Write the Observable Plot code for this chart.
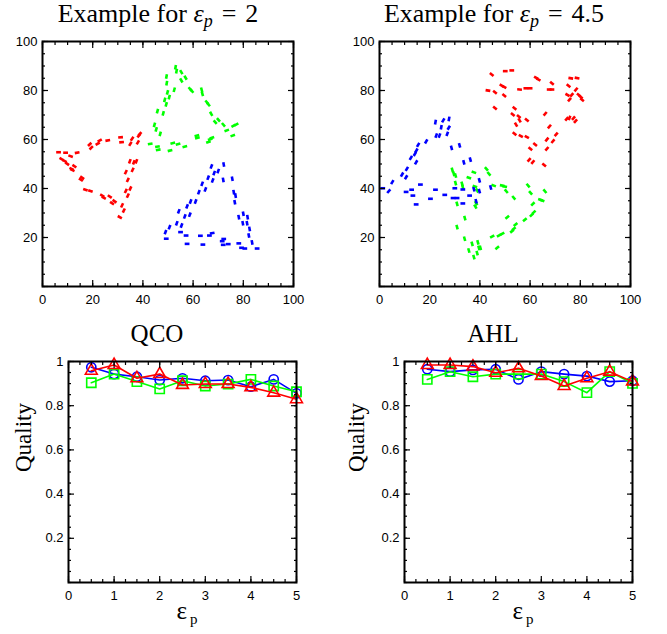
<!DOCTYPE html>
<html><head><meta charset="utf-8">
<script src="https://cdn.jsdelivr.net/npm/d3@7"></script>
<script src="https://cdn.jsdelivr.net/npm/@observablehq/plot@0.6"></script>
<style>
body{margin:0;background:#fff;}
#root{position:relative;width:667px;height:634px;overflow:hidden;}
.panel{position:absolute;}
.title{position:absolute;font-family:"Liberation Serif","Times New Roman",serif;white-space:nowrap;transform:translateX(-50%);line-height:1;color:#000;}
.title i{font-style:italic;}
.sub{font-size:18px;position:relative;top:5px;font-style:italic;}
.eq{margin:0 9px;}
.xlab{position:absolute;font-family:"Liberation Serif",serif;font-size:25px;line-height:1;transform:translateX(-50%);white-space:nowrap;}
.xlab span{font-size:15px;position:relative;top:5px;margin-left:3px;}
</style></head><body><div id="root"></div><script>
// ---------- top panels: dashes [x, y, orientation in degrees clockwise from up] ----------
const ex2Red = [[6.4,54.8,90],[9.2,54.6,90],[13.8,54.6,80],[11.2,53.2,110],[7.6,52.0,120],[8.8,51.2,120],[9.8,50.1,125],[12.7,49.1,125],[11.6,48.0,115],[11.9,47.5,115],[15.8,44.4,125],[15.3,43.6,125],[17.1,39.5,110],[19.1,39.0,110],[23.8,37.1,120],[24.4,36.2,120],[26.8,36.7,125],[27.7,34.0,125],[28.7,34.8,125],[30.8,28.3,120],[32.4,31.0,25],[31.7,33.1,25],[34.0,37.1,25],[33.2,39.0,25],[35.0,40.0,25],[34.0,43.5,25],[33.2,46.7,25],[35.9,47.6,25],[34.8,51.1,20],[36.4,50.7,20],[37.4,51.1,20],[35.0,58.2,30],[35.7,60.3,35],[38.0,58.8,30],[38.4,61.6,40],[38.8,62.3,40],[31.1,60.9,85],[31.5,58.9,85],[26.0,59.6,80],[22.8,59.6,60],[22.0,58.3,60],[18.8,58.0,45],[19.4,56.6,45]];
const ex2Green = [[53.0,89.5,10],[53.4,87.9,10],[55.3,87.5,150],[57.0,85.2,150],[55.3,84.1,150],[49.4,85.7,10],[49.5,83.0,10],[52.5,80.3,15],[49.8,79.2,15],[50.5,77.3,15],[48.7,76.2,15],[49.3,74.3,15],[45.8,71.6,15],[48.1,70.7,15],[44.6,66.0,15],[45.3,64.1,15],[46.9,62.3,15],[42.9,58.2,80],[45.8,57.1,80],[46.1,55.8,80],[51.9,58.5,75],[50.8,55.5,75],[54.0,58.1,75],[56.7,57.1,75],[61.5,61.6,75],[61.7,60.7,75],[66.8,60.1,70],[67.5,60.7,70],[66.1,59.0,70],[73.4,63.7,70],[75.8,61.6,70],[76.1,65.6,60],[77.2,66.1,60],[72.1,66.0,140],[70.1,68.0,140],[68.8,67.1,140],[67.2,70.5,150],[66.1,74.3,140],[65.5,75.2,140],[63.7,78.6,165],[63.4,80.3,165],[58.8,80.6,140],[59.5,79.8,140]];
const ex2Blue = [[72.2,49.8,170],[67.3,49.0,20],[70.0,47.1,20],[68.4,46.3,20],[66.0,44.4,20],[67.8,43.3,20],[72.0,43.5,170],[75.6,44.0,170],[63.6,41.9,20],[64.9,39.6,20],[62.3,38.5,20],[76.2,38.5,170],[76.9,37.1,170],[76.6,34.4,170],[59.0,34.7,20],[61.0,34.7,20],[57.6,32.7,20],[54.3,30.7,20],[56.7,28.6,20],[58.7,29.3,20],[53.5,25.8,20],[55.4,24.9,20],[50.6,24.2,20],[49.0,22.2,20],[49.3,19.5,90],[55.0,22.2,90],[57.2,20.8,90],[57.6,17.4,90],[62.9,20.7,90],[63.9,17.1,90],[66.5,20.8,90],[67.6,21.8,80],[72.2,19.4,90],[71.6,18.5,90],[72.0,17.0,90],[74.0,17.3,90],[78.2,17.6,90],[79.3,15.8,90],[80.6,15.5,90],[85.5,15.5,90],[83.5,18.0,170],[82.2,20.8,170],[81.5,25.8,170],[82.5,23.5,170],[79.8,25.8,170],[78.2,28.3,170],[80.0,29.7,170],[81.7,28.3,170]];
const ex45Red = [[44.7,86.5,130],[50.1,87.9,90],[52.7,88.2,90],[43.2,80.0,100],[46.0,79.3,130],[48.7,82.0,120],[49.7,81.4,120],[49.7,78.0,130],[55.8,80.4,95],[58.3,80.9,90],[60.0,80.9,90],[62.4,85.2,120],[63.3,84.5,120],[68.7,83.0,130],[67.6,80.4,90],[68.7,80.4,90],[76.2,85.0,100],[78.7,85.1,100],[75.3,81.9,130],[78.3,80.4,40],[76.6,78.2,40],[74.9,78.2,120],[75.7,76.3,40],[79.4,78.2,130],[80.2,77.3,130],[80.7,76.2,130],[46.0,72.9,130],[53.8,72.8,130],[53.1,70.2,130],[55.5,69.4,130],[55.8,67.8,150],[54.4,66.1,150],[58.7,68.0,130],[66.0,70.5,40],[74.6,68.4,40],[75.7,68.8,20],[77.3,68.7,40],[78.1,67.5,40],[53.8,62.3,130],[56.3,61.4,120],[58.7,61.0,120],[67.7,65.3,40],[70.4,62.1,40],[66.7,60.0,40],[69.1,59.3,40],[62.0,58.0,130],[60.1,56.2,130],[66.7,56.2,40],[59.6,51.7,40],[61.1,50.8,40],[65.6,49.6,130]];
const ex45Blue = [[22.3,67.1,10],[25.4,67.8,30],[27.7,68.4,10],[24.6,65.0,10],[27.6,64.8,30],[22.6,61.6,20],[23.9,61.6,20],[27.0,62.3,20],[18.6,59.2,30],[15.4,57.8,30],[14.7,55.5,30],[14.1,54.1,30],[12.5,52.5,30],[14.6,50.7,30],[28.7,56.6,165],[31.9,57.6,165],[33.6,50.7,165],[36.2,51.8,165],[10.9,48.0,30],[10.6,44.6,30],[9.0,45.7,30],[5.1,42.6,30],[3.7,38.9,40],[1.3,40.1,90],[16.3,41.6,90],[10.6,38.6,90],[12.8,39.5,90],[13.3,37.1,90],[14.6,33.5,90],[20.3,35.8,90],[22.3,39.5,90],[26.0,37.4,90],[30.0,40.1,90],[33.2,39.6,90],[30.9,36.1,90],[33.2,33.9,90],[35.9,37.1,90],[37.6,39.7,165],[39.8,43.3,165],[39.8,38.9,165],[38.5,34.8,165],[44.3,40.4,165],[29.3,36.1,90]];
const ex45Green = [[29.0,47.6,165],[29.6,46.0,165],[30.3,45.3,165],[35.6,44.4,110],[37.6,46.6,110],[42.6,48.0,140],[43.6,46.0,140],[32.9,41.9,165],[33.2,40.5,165],[30.3,42.2,165],[38.0,40.8,110],[45.5,41.2,110],[48.9,41.2,100],[49.9,40.8,100],[50.5,38.9,140],[59.2,41.2,140],[60.2,38.2,140],[65.9,38.9,140],[53.5,36.2,140],[64.1,35.4,110],[64.8,35.1,110],[61.1,33.7,45],[61.5,30.3,45],[60.6,29.2,45],[57.9,27.2,50],[50.9,28.3,50],[54.2,25.3,50],[53.5,23.6,50],[52.8,22.6,50],[48.9,21.5,60],[47.6,20.8,60],[44.9,20.4,60],[46.9,15.8,50],[38.9,39.2,150],[38.5,34.0,150],[38.2,32.6,150],[30.9,33.7,165],[34.0,27.9,165],[30.9,24.2,165],[33.9,19.5,165],[36.9,17.4,165],[39.2,18.0,165],[39.6,15.8,165],[40.2,15.8,165],[35.6,14.7,165],[37.6,12.0,165],[38.9,13.6,165]];
const topXTicks = [0,20,40,60,80,100];
const topYTicks = [20,40,60,80,100];
const topMinor = d3.range(0,101,5);

// ---------- bottom panels ----------
const epsP = [0.5,1,1.5,2,2.5,3,3.5,4,4.5,5];
const qcoBlue  = [0.974,0.943,0.931,0.916,0.924,0.913,0.916,0.886,0.919,0.856];
const qcoGreen = [0.904,0.943,0.909,0.876,0.913,0.889,0.898,0.919,0.889,0.863];
const qcoRed   = [0.958,0.984,0.924,0.943,0.894,0.898,0.898,0.883,0.859,0.829];
const ahlBlue  = [0.965,0.954,0.962,0.965,0.919,0.954,0.943,0.934,0.909,0.913];
const ahlGreen = [0.919,0.954,0.931,0.943,0.943,0.943,0.909,0.859,0.954,0.901];
const ahlRed   = [0.984,0.984,0.977,0.949,0.969,0.934,0.889,0.924,0.954,0.909];
const botXTicks = [0,1,2,3,4,5];
const botYTicks = [0.2,0.4,0.6,0.8,1];
const botXMinor = d3.range(0,21).map(i => i/4);
const botYMinor = d3.range(0,21).map(i => i/20);

const BLUE = "#0000ff", GREEN = "#00ff00", RED = "#ff0000";
const SANS = "Liberation Sans, Arial, sans-serif";
const root = document.getElementById("root");

function frameAxes(xMajor, xLab, yMajor, yLab, xMinor, yMinor, xFmt, yFmt) {
  const m = [];
  for (const anchor of ["bottom","top"]) {
    m.push(Plot.axisX(xMinor, {anchor, tickSize: -3, tickFormat: () => "", label: null, strokeWidth: 1.2}));
    m.push(Plot.axisX(xMajor, {anchor, tickSize: -6, tickFormat: () => "", label: null, strokeWidth: 1.2}));
  }
  for (const anchor of ["left","right"]) {
    m.push(Plot.axisY(yMinor, {anchor, tickSize: -3, tickFormat: () => "", label: null, strokeWidth: 1.2}));
    m.push(Plot.axisY(yMajor, {anchor, tickSize: -6, tickFormat: () => "", label: null, strokeWidth: 1.2}));
  }
  m.push(Plot.axisX(xLab, {anchor: "bottom", tickSize: 0, tickPadding: 8, label: null, tickFormat: xFmt, fontSize: 13, fontFamily: SANS}));
  m.push(Plot.axisY(yLab, {anchor: "left", tickSize: 0, tickPadding: 5, label: null, tickFormat: yFmt, fontSize: 13, fontFamily: SANS}));
  m.push(Plot.frame({stroke: "#000", strokeWidth: 2}));
  return m;
}

function dashes(data, color) {
  const H = 0.95, r = Math.PI / 180;
  return Plot.link(data, {
    x1: d => d[0] - H * Math.sin(d[2] * r), y1: d => d[1] - H * Math.cos(d[2] * r),
    x2: d => d[0] + H * Math.sin(d[2] * r), y2: d => d[1] + H * Math.cos(d[2] * r),
    stroke: color, strokeWidth: 2.6
  });
}

function scatterPanel(sets, left, top, ml, mr) {
  const svg = Plot.plot({
    width: ml + 251 + mr, height: 11 + 245 + 25,
    marginLeft: ml, marginRight: mr, marginTop: 11, marginBottom: 25,
    x: {domain: [0, 100]}, y: {domain: [0, 100]},
    style: {background: "white", overflow: "visible"},
    marks: [
      ...sets.map(([d, c]) => dashes(d, c)),
      ...frameAxes(topXTicks, topXTicks, topXTicks, topYTicks, topMinor, topMinor, d => String(d), d => String(d))
    ]
  });
  svg.classList.add("panel");
  svg.style.left = left + "px"; svg.style.top = top + "px";
  root.appendChild(svg);
}

function qualityPanel(series, left, top, ml, labelDx) {
  const mr = 20;
  const marks = [];
  for (const [vals, color, symbol, r] of series) {
    const data = epsP.map((e, i) => ({e, q: vals[i]}));
    marks.push(Plot.line(data, {x: "e", y: "q", stroke: color, strokeWidth: 1.6}));
    marks.push(Plot.dot(data, {x: "e", y: "q", stroke: color, symbol, r, strokeWidth: 1.6, fill: "none"}));
  }
  const svg = Plot.plot({
    width: ml + 228 + mr, height: 11 + 221 + 43,
    marginLeft: ml, marginRight: mr, marginTop: 11, marginBottom: 43,
    x: {domain: [0, 5]}, y: {domain: [0, 1]},
    style: {background: "white", overflow: "visible"},
    marks: [
      ...marks,
      ...frameAxes(botXTicks, botXTicks, botYTicks, botYTicks, botXMinor, botYMinor, d => String(d), d => String(d)),
      Plot.text(["Quality"], {frameAnchor: "left", dx: labelDx, rotate: -90, fontSize: 23, fontFamily: "Liberation Serif, serif", fill: "#000"})
    ]
  });
  svg.classList.add("panel");
  svg.style.left = left + "px"; svg.style.top = top + "px";
  root.appendChild(svg);
}

scatterPanel([[ex2Red, RED], [ex2Green, GREEN], [ex2Blue, BLUE]], 0, 30, 42, 27);
scatterPanel([[ex45Red, RED], [ex45Green, GREEN], [ex45Blue, BLUE]], 333, 30, 46, 30);
qualityPanel([[qcoBlue, BLUE, "circle", 4.6], [qcoGreen, GREEN, "square", 5.2], [qcoRed, RED, "triangle", 4.4]], 0, 350, 68, -45);
qualityPanel([[ahlBlue, BLUE, "circle", 4.6], [ahlGreen, GREEN, "square", 5.2], [ahlRed, RED, "triangle", 4.4]], 333, 350, 71, -48);

function addTitle(html, cx, top, size) {
  const d = document.createElement("div");
  d.className = "title"; d.innerHTML = html;
  d.style.left = cx + "px"; d.style.top = top + "px"; d.style.fontSize = size + "px";
  root.appendChild(d);
}
addTitle('Example for <i>ε</i><span class="sub">p</span><span class="eq">=</span>2', 158, 1, 26);
addTitle('Example for <i>ε</i><span class="sub">p</span><span class="eq">=</span>4.5', 494, 1, 26);
addTitle('QCO', 157, 321, 25);
addTitle('AHL', 493, 321, 25);

function addXLabel(cx) {
  const d = document.createElement("div");
  d.className = "xlab"; d.innerHTML = 'ε<span>p</span>';
  d.style.left = cx + "px"; d.style.top = "598px";
  root.appendChild(d);
}
addXLabel(187);
addXLabel(523);
</script></body></html>
